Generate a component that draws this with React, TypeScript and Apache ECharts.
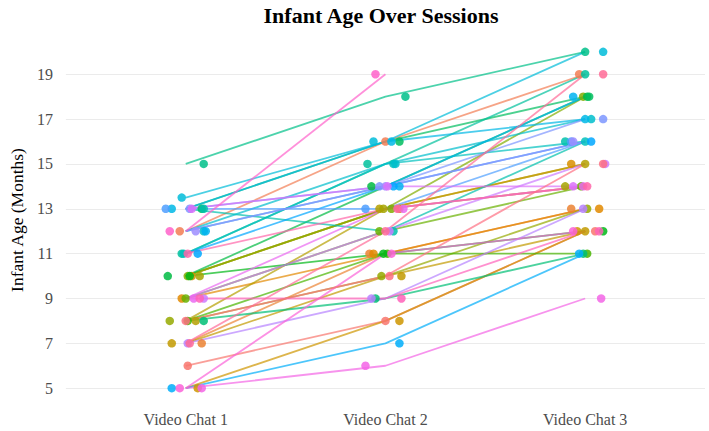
import React, { useEffect, useRef } from "react";
import * as echarts from "echarts";

const sessions = ["Video Chat 1", "Video Chat 2", "Video Chat 3"];
const yTicks = [5, 7, 9, 11, 13, 15, 17, 19];

// infant age (months) per participant at each session (participants in id order)
const session1 = [6, 12, 7, 9, 10, 5, 7, 8, 10, 8, 10, 9, 8, 10, 10, 13, 8, 15, 11, 13, 11, 12, 13.5, 13, 12, 5, 11, 13, 13, 12, 7, 9, 13, 9, 5, 5, 12, 9, 11, 7, 8];
const session2 = [8, 16, 11, 11, 13, 8, 10, 13, 13, 10, 13, 12, 11, 11, 14, 16, 9, 18, 15, 12, 15, 15, 16, 16, 14, 7, 14, 13, 14, 14, 9, 12, 14, 13, 6, 11, 19, 9, 13, 12, 10];
const session3 = [12, 19, 13, 13, 15, 12, 12, 15, 14, 13, 18, 14, 11, 12, 18, 18, 11, 20, 19, 16, 16, 17, 20, 17, 18, 11, 16, 16, 17, 16, 13, 15, 14, 14, 9, 12, null, 12, 14, 19, 15];

// horizontal jitter of the plotted points (hundredths of a session step)
const jitter1 = [1, -3, 8, -2, 3, 6, -7, 5, 7, -8, 1, 0, 1, 2, -9, 8, 9, 9, -2, 9, -1, 9, -2, -7, 10, -7, 6, -10, 2, 5, 1, 9, 3, 4, 8, -3, -8, 7, 1, 2, 0];
const jitter2 = [0, 0, -8, -6, 7, 7, 8, -3, -1, -2, 3, -3, 1, -1, -7, 7, -5, 10, -9, 4, 4, 5, -6, 3, 7, 7, 4, -10, -3, 0, -7, 2, 1, 9, -10, 3, -5, 8, 6, 0, 2];
const jitter3 = [5, -3, -7, 7, -7, -4, 0, 0, -10, 1, -1, -2, 1, 9, 1, 2, -1, 0, 0, -10, 0, 3, 9, 0, -6, -3, 3, -7, 9, -6, -1, 10, -6, -1, 8, -6, 0, 7, 1, 9, 9];

const SERIF = "Liberation Serif";

function hcl(h: number, c: number, l: number): string {
  const hr = (h * Math.PI) / 180;
  const u = c * Math.cos(hr);
  const v = c * Math.sin(hr);
  const Xn = 0.95047, Yn = 1, Zn = 1.08883;
  const un = (4 * Xn) / (Xn + 15 * Yn + 3 * Zn);
  const vn = (9 * Yn) / (Xn + 15 * Yn + 3 * Zn);
  const Y = l > 8 ? Math.pow((l + 16) / 116, 3) : l / 903.3;
  const up = u / (13 * l) + un;
  const vp = v / (13 * l) + vn;
  const X = (Y * 9 * up) / (4 * vp);
  const Z = (Y * (12 - 3 * up - 20 * vp)) / (4 * vp);
  const lin = [
    3.2406 * X - 1.5372 * Y - 0.4986 * Z,
    -0.9689 * X + 1.8758 * Y + 0.0415 * Z,
    0.0557 * X - 0.204 * Y + 1.057 * Z,
  ];
  const g = lin.map((x) => {
    const s = x <= 0.0031308 ? 12.92 * x : 1.055 * Math.pow(x, 1 / 2.4) - 0.055;
    return Math.max(0, Math.min(255, Math.round(s * 255)));
  });
  return `rgb(${g[0]},${g[1]},${g[2]})`;
}

export default function App() {
  const ref = useRef<HTMLDivElement>(null);
  useEffect(() => {
    if (!ref.current) return;
    const chart = echarts.init(ref.current, undefined, { renderer: "svg" });
    const n = session1.length;
    const colors = Array.from({ length: n }, (_, i) => hcl(15 + (360 * i) / n, 100, 65));
    const lineSeries: any[] = [];
    const pointSeries: any[] = [];
    for (let i = 0; i < n; i++) {
      const vals = [session1[i], session2[i], session3[i]];
      const jit = [jitter1[i], jitter2[i], jitter3[i]];
      lineSeries.push({
        type: "line",
        data: vals.map((v, k) => (v == null ? [k + 1, null] : [k + 1, v])),
        symbol: "none",
        connectNulls: false,
        lineStyle: { color: colors[i], width: 1.8, opacity: 0.7 },
        z: 2,
        silent: true,
      });
      pointSeries.push({
        type: "scatter",
        data: vals
          .map((v, k) => (v == null ? null : [k + 1 + jit[k] / 100, v]))
          .filter((d) => d != null),
        symbolSize: 8.5,
        itemStyle: { color: colors[i], opacity: 0.85 },
        z: 3,
        silent: true,
      });
    }
    chart.setOption({
      animation: false,
      textStyle: { fontFamily: SERIF },
      grid: { left: 55, right: 4, top: 35, bottom: 26 },
      graphic: [
        {
          type: "text",
          x: 381,
          y: 15,
          style: {
            text: "Infant Age Over Sessions",
            align: "center",
            verticalAlign: "middle",
            fontFamily: SERIF,
            fontWeight: "bold",
            fontSize: 22,
            fill: "#000",
          },
        },
      ],
      xAxis: {
        type: "value",
        min: 0.4,
        max: 3.6,
        axisLine: { show: false },
        axisTick: { show: false, customValues: [1, 2, 3] },
        splitLine: { show: false },
        axisLabel: {
          customValues: [1, 2, 3],
          formatter: (v: number) => sessions[Math.round(v) - 1] ?? "",
          color: "#4d4d4d",
          fontFamily: SERIF,
          fontSize: 16,
          margin: 6,
        },
      },
      yAxis: {
        type: "value",
        min: 4.25,
        max: 20.75,
        name: "Infant Age (Months)",
        nameLocation: "middle",
        nameGap: 39,
        nameTextStyle: { color: "#000", fontFamily: SERIF, fontSize: 17.5 },
        axisLine: { show: false },
        axisTick: { show: false, customValues: yTicks },
        splitLine: { show: true, lineStyle: { color: "#ebebeb", width: 1.2 } },
        axisLabel: {
          customValues: yTicks,
          color: "#4d4d4d",
          fontFamily: SERIF,
          fontSize: 16,
          margin: 13,
        },
      },
      series: [...lineSeries, ...pointSeries],
    });
    return () => chart.dispose();
  }, []);
  return (
    <div
      ref={ref}
      style={{ position: "fixed", left: 0, top: 0, width: 709, height: 431, background: "#fff" }}
    />
  );
}
